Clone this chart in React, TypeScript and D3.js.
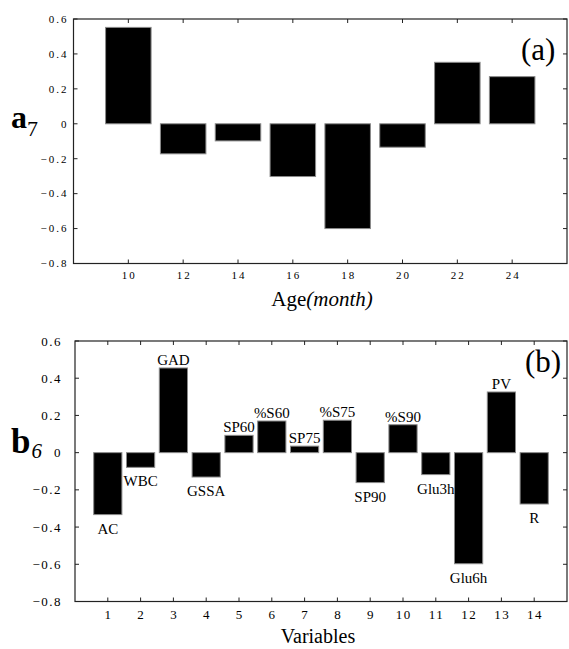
import React, { useEffect, useRef } from 'react';
import * as d3 from 'd3';

// panel (a): loadings by age
const ages = [10, 12, 14, 16, 18, 20, 22, 24];
const a7Values = [0.552, -0.172, -0.098, -0.302, -0.6, -0.134, 0.352, 0.27];
const ageTicks = [10, 12, 14, 16, 18, 20, 22, 24];

// panel (b): loadings by variable
const varIndex = [1, 2, 3, 4, 5, 6, 7, 8, 9, 10, 11, 12, 13, 14];
const varNames = ['AC', 'WBC', 'GAD', 'GSSA', 'SP60', '%S60', 'SP75', '%S75', 'SP90', '%S90', 'Glu3h', 'Glu6h', 'PV', 'R'];
const b6Values = [-0.333, -0.079, 0.455, -0.131, 0.093, 0.17, 0.035, 0.174, -0.161, 0.15, -0.118, -0.597, 0.326, -0.276];

const yTicks = [-0.8, -0.6, -0.4, -0.2, 0, 0.2, 0.4, 0.6];
const fmt = (v: number) => (v === 0 ? '0' : d3.format('.1f')(v));

const SERIF = "'Liberation Serif', 'Times New Roman', serif";

export default function App() {
  const svgRef = useRef<SVGSVGElement | null>(null);

  useEffect(() => {
    const svg = d3.select(svgRef.current);
    svg.selectAll('*').remove();

    const drawPanel = (opts: {
      left: number; right: number; top: number; bottom: number;
      xDomain: [number, number]; xs: number[]; values: number[]; barW: number;
      xTicks: number[]; tickSize: number; tickSpacing: number; yLabelGap: number; xLabelY: number;
    }) => {
      const x = d3.scaleLinear().domain(opts.xDomain).range([opts.left, opts.right]);
      const y = d3.scaleLinear().domain([-0.8, 0.6]).range([opts.bottom, opts.top]);
      const g = svg.append('g');

      // bars
      g.selectAll('rect.bar')
        .data(opts.xs)
        .enter()
        .append('rect')
        .attr('class', 'bar')
        .attr('x', (d) => x(d - opts.barW / 2))
        .attr('width', (d) => x(d + opts.barW / 2) - x(d - opts.barW / 2))
        .attr('y', (d, i) => y(Math.max(0, opts.values[i])))
        .attr('height', (d, i) => Math.abs(y(opts.values[i]) - y(0)))
        .style('fill', '#000')
        .style('stroke', '#8a8a8a')
        .style('stroke-width', 1);

      // frame
      g.append('rect')
        .attr('x', opts.left)
        .attr('y', opts.top)
        .attr('width', opts.right - opts.left)
        .attr('height', opts.bottom - opts.top)
        .style('fill', 'none')
        .style('stroke', '#222')
        .style('stroke-width', 1.2);

      // x ticks (bottom and top, pointing inward)
      opts.xTicks.forEach((t) => {
        g.append('line').attr('x1', x(t)).attr('x2', x(t)).attr('y1', opts.bottom).attr('y2', opts.bottom - 4).style('stroke', '#222');
        g.append('line').attr('x1', x(t)).attr('x2', x(t)).attr('y1', opts.top).attr('y2', opts.top + 4).style('stroke', '#222');
        g.append('text')
          .attr('x', x(t) + opts.tickSpacing / 2)
          .attr('y', opts.xLabelY)
          .attr('text-anchor', 'middle')
          .attr('font-family', SERIF)
          .attr('font-size', opts.tickSize)
          .attr('letter-spacing', opts.tickSpacing)
          .text(t);
      });

      // y ticks (left and right, pointing inward)
      yTicks.forEach((t) => {
        g.append('line').attr('x1', opts.left).attr('x2', opts.left + 4).attr('y1', y(t)).attr('y2', y(t)).style('stroke', '#222');
        g.append('line').attr('x1', opts.right).attr('x2', opts.right - 4).attr('y1', y(t)).attr('y2', y(t)).style('stroke', '#222');
        g.append('text')
          .attr('x', opts.left - opts.yLabelGap)
          .attr('y', y(t) + opts.tickSize * 0.35)
          .attr('text-anchor', 'end')
          .attr('font-family', SERIF)
          .attr('font-size', opts.tickSize)
          .attr('letter-spacing', opts.tickSpacing)
          .text(fmt(t));
      });

      return { x, y, g };
    };

    // ---- panel (a)
    const a = drawPanel({
      left: 73.5, right: 567, top: 19, bottom: 263.5,
      xDomain: [8, 26], xs: ages, values: a7Values, barW: 1.66,
      xTicks: ageTicks, tickSize: 11, tickSpacing: 2, yLabelGap: 5, xLabelY: 279,
    });

    a.g.append('text')
      .attr('x', 521)
      .attr('y', 60)
      .attr('font-family', SERIF)
      .attr('font-size', 31)
      .text('(a)');

    const aLab = a.g.append('text').attr('x', 11).attr('y', 128).attr('font-family', SERIF);
    aLab.append('tspan').attr('font-size', 32).attr('font-weight', 'bold').text('a');
    aLab.append('tspan').attr('font-size', 22).attr('dy', 8).text('7');

    const ageTitle = a.g.append('text')
      .attr('x', 322)
      .attr('y', 306)
      .attr('text-anchor', 'middle')
      .attr('font-family', SERIF)
      .attr('font-size', 21);
    ageTitle.append('tspan').text('Age');
    ageTitle.append('tspan').attr('font-style', 'italic').text('(month)');

    // ---- panel (b)
    const b = drawPanel({
      left: 75, right: 567, top: 341, bottom: 601.5,
      xDomain: [0, 15], xs: varIndex, values: b6Values, barW: 0.86,
      xTicks: varIndex, tickSize: 13, tickSpacing: 1.5, yLabelGap: 13, xLabelY: 619,
    });

    b.g.selectAll('text.varname')
      .data(varIndex)
      .enter()
      .append('text')
      .attr('class', 'varname')
      .attr('x', (d) => b.x(d))
      .attr('y', (d, i) => (b6Values[i] >= 0 ? b.y(b6Values[i]) - 3 : b.y(b6Values[i]) + 19))
      .attr('text-anchor', 'middle')
      .attr('font-family', SERIF)
      .attr('font-size', 15)
      .text((d, i) => varNames[i]);

    b.g.append('text')
      .attr('x', 525)
      .attr('y', 372)
      .attr('font-family', SERIF)
      .attr('font-size', 31)
      .text('(b)');

    const bLab = b.g.append('text').attr('x', 11).attr('y', 453).attr('font-family', SERIF);
    bLab.append('tspan').attr('font-size', 35).attr('font-weight', 'bold').text('b');
    bLab.append('tspan').attr('font-size', 21).attr('font-style', 'italic').attr('dx', 1).attr('dy', 5).text('6');

    b.g.append('text')
      .attr('x', 318)
      .attr('y', 643)
      .attr('text-anchor', 'middle')
      .attr('font-family', SERIF)
      .attr('font-size', 20)
      .text('Variables');
  }, []);

  return (
    <svg
      ref={svgRef}
      width={569}
      height={649}
      style={{ position: 'absolute', left: 0, top: 0, background: '#fff' }}
    />
  );
}
